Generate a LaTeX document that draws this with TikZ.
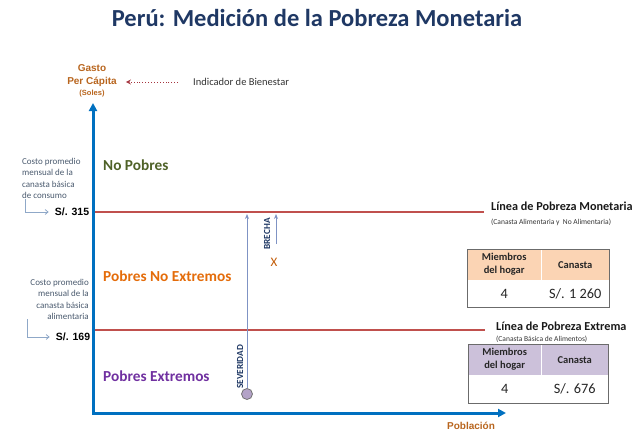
\documentclass[tikz,border=0pt]{standalone}
\usepackage{fontspec}
\setmainfont{Carlito}
\newfontfamily\arialf{Liberation Sans}
\usetikzlibrary{arrows.meta}
\definecolor{titleblue}{HTML}{1F3864}
\definecolor{axisblue}{HTML}{0070C0}
\definecolor{redline}{HTML}{C0504D}
\definecolor{brownlbl}{HTML}{B8651E}
\definecolor{greenlbl}{HTML}{4F6228}
\definecolor{orangelbl}{HTML}{E46C0A}
\definecolor{purplelbl}{HTML}{7030A0}
\definecolor{leftgray}{HTML}{4A5A6E}
\definecolor{bracketc}{HTML}{8FA8C8}
\definecolor{sevc}{HTML}{7F93C4}
\definecolor{lav}{HTML}{B3A2C7}
\definecolor{peach}{HTML}{FBD4B4}
\definecolor{lilac}{HTML}{CCC1DA}
\definecolor{dotred}{HTML}{A5353F}
\definecolor{tabborder}{HTML}{6B6B6B}
\tikzset{
  axis/.style={axisblue, line width=3pt},
  povline/.style={redline, line width=1.4pt},
  lefttxt/.style={font=\fontsize{9}{11.5}\selectfont, text=leftgray, inner sep=0pt},
  bracket/.style={bracketc, line width=0.8pt, -{Straight Barb[length=3pt,width=5pt]}},
  soles/.style={font=\arialf\bfseries\fontsize{10.5}{12}\selectfont, text=black, inner sep=1pt},
  brown/.style={font=\arialf\bfseries\fontsize{10}{12}\selectfont, text=brownlbl, inner sep=0pt},
  catlbl/.style={font=\bfseries\fontsize{15.3}{18}\selectfont, anchor=west, inner sep=0pt},
  linetitle/.style={font=\bfseries\fontsize{12.2}{14}\selectfont, anchor=west, inner sep=0pt, text=black!90},
  linesub/.style={font=\fontsize{7.5}{9}\selectfont, anchor=west, inner sep=0pt, text=black!80},
  vlbl/.style={font=\bfseries\fontsize{9.3}{10}\selectfont, text=titleblue, rotate=90, inner sep=0pt},
  thead/.style={font=\bfseries\fontsize{10.5}{13}\selectfont, align=center, text=black!85, inner sep=0pt},
  tbody/.style={font=\fontsize{14.3}{16}\selectfont, text=black!85, inner sep=0pt},
  sevarrow/.style={sevc, line width=0.9pt, -{Stealth[length=5pt,width=4pt]}},
}
\begin{document}
\begin{tikzpicture}[x=1pt,y=-1pt]
\useasboundingbox (0,0) rectangle (640,444);
% title
\node[font=\bfseries\fontsize{24.5}{28}\selectfont, text=titleblue] (title) at (317,18) {Perú: Medición de la Pobreza Monetaria};
% axes
\coordinate (O) at (93,413);
\coordinate (ytop) at (93,103);
\coordinate (xend) at (506,413);
\draw[axis, line join=miter, {Triangle[length=8pt,width=8pt]}-{Triangle[length=8pt,width=8pt]}] (ytop) -- (O) -- (xend);
% axis labels
\node[brown] (gasto) at (92,68) {Gasto};
\node[brown] (percap) at (92,82) {Per Cápita};
\node[font=\arialf\bfseries\fontsize{7.5}{9}\selectfont, text=brownlbl, inner sep=0pt] (solesu) at (92,94) {(Soles)};
\node[font=\fontsize{10.5}{12}\selectfont, text=black!80, anchor=west, inner sep=0pt] (ind) at (193,82) {Indicador de Bienestar};
\draw[dotred, line width=0.9pt, dotted, shorten <=15pt, shorten >=9pt, -{Stealth[length=5pt,width=5pt,open]}] (ind.west) -- (percap.east);
\node[brown] (pob) at (471,426) {Población};
% poverty lines
\coordinate (l1s) at (95,212);
\coordinate (l1e) at (484,212);
\coordinate (l2s) at (95,330);
\coordinate (l2e) at (485,330);
\draw[povline] (l1s) -- (l1e);
\draw[povline] (l2s) -- (l2e);
% left labels
\node[lefttxt, anchor=north west, align=left] (c1) at (22,158) {Costo promedio\\mensual de la\\canasta básica\\de consumo};
\node[soles] (s315) at (72,212) {S/. 315};
\coordinate (b1s) at (25,199);
\draw[bracket, shorten >=5pt] (b1s) |- (s315.west);
\node[lefttxt, anchor=north east, align=right] (c2) at (89,279) {Costo promedio\\mensual de la\\canasta básica\\alimentaria};
\node[soles] (s169) at (73,337) {S/. 169};
\coordinate (b2s) at (27,319);
\draw[bracket, shorten >=5pt] (b2s) |- (s169.west);
% categories
\node[catlbl, text=greenlbl] (nopob) at (103,165) {No Pobres};
\node[catlbl, text=orangelbl] (pne) at (103,276) {Pobres No Extremos};
\node[catlbl, text=purplelbl] (pe) at (103,376) {Pobres Extremos};
% severity and gap
\node[circle, draw=black!55, line width=0.8pt, fill=lav, minimum size=11pt, inner sep=0pt] (sev) at (247,394) {};
\coordinate (sevtop) at (247,214);
\draw[sevarrow] (sev.north) -- (sevtop);
\node[vlbl] (sevl) at (240,367) {SEVERIDAD};
\coordinate (brb) at (276,244);
\coordinate (brt) at (276,214);
\draw[sevarrow] (brb) -- (brt);
\node[vlbl] (brl) at (267,234) {BRECHA};
\node[font=\fontsize{13}{15}\selectfont, text=orangelbl!85!black, inner sep=0pt] (xm) at (274,262) {X};
% right labels
\node[linetitle] (lpm) at (491,206) {Línea de Pobreza Monetaria};
\node[linesub] (lpms) at (491,222) {(Canasta Alimentaria y\ \ No Alimentaria)};
\node[linetitle] (lpe) at (496,326) {Línea de Pobreza Extrema};
\node[linesub] (lpes) at (496,339) {(Canasta Básica de Alimentos)};
% table 1
\node[fill=peach, minimum width=74pt, minimum height=31pt, inner sep=0pt, anchor=north west] (t1a) at (467,249) {};
\node[fill=peach, minimum width=68pt, minimum height=31pt, inner sep=0pt, anchor=north west] (t1b) at (541,249) {};
\node[fill=white, minimum width=74pt, minimum height=27pt, inner sep=0pt, anchor=north west] (t1c) at (467,280) {};
\node[fill=white, minimum width=68pt, minimum height=27pt, inner sep=0pt, anchor=north west] (t1d) at (541,280) {};
\draw[white, line width=1pt] (t1a.north east) -- (t1a.south east);
\draw[tabborder, line width=1pt] (t1a.north west) rectangle (t1d.south east);
\node[thead] (t1ha) at (t1a.center) {Miembros\\del hogar};
\node[thead] (t1hb) at (t1b.center) {Canasta};
\node[tbody] (t1ba) at (t1c.center) {4};
\node[tbody] (t1bb) at (t1d.center) {S/. 1 260};
% table 2
\node[fill=lilac, minimum width=73pt, minimum height=31pt, inner sep=0pt, anchor=north west] (t2a) at (468,344) {};
\node[fill=lilac, minimum width=67pt, minimum height=31pt, inner sep=0pt, anchor=north west] (t2b) at (541,344) {};
\node[fill=white, minimum width=73pt, minimum height=28pt, inner sep=0pt, anchor=north west] (t2c) at (468,375) {};
\node[fill=white, minimum width=67pt, minimum height=28pt, inner sep=0pt, anchor=north west] (t2d) at (541,375) {};
\draw[white, line width=1pt] (t2a.north east) -- (t2a.south east);
\draw[tabborder, line width=1pt] (t2a.north west) rectangle (t2d.south east);
\node[thead] (t2ha) at (t2a.center) {Miembros\\del hogar};
\node[thead] (t2hb) at (t2b.center) {Canasta};
\node[tbody] (t2ba) at (t2c.center) {4};
\node[tbody] (t2bb) at (t2d.center) {S/. 676};
\end{tikzpicture}
\end{document}
